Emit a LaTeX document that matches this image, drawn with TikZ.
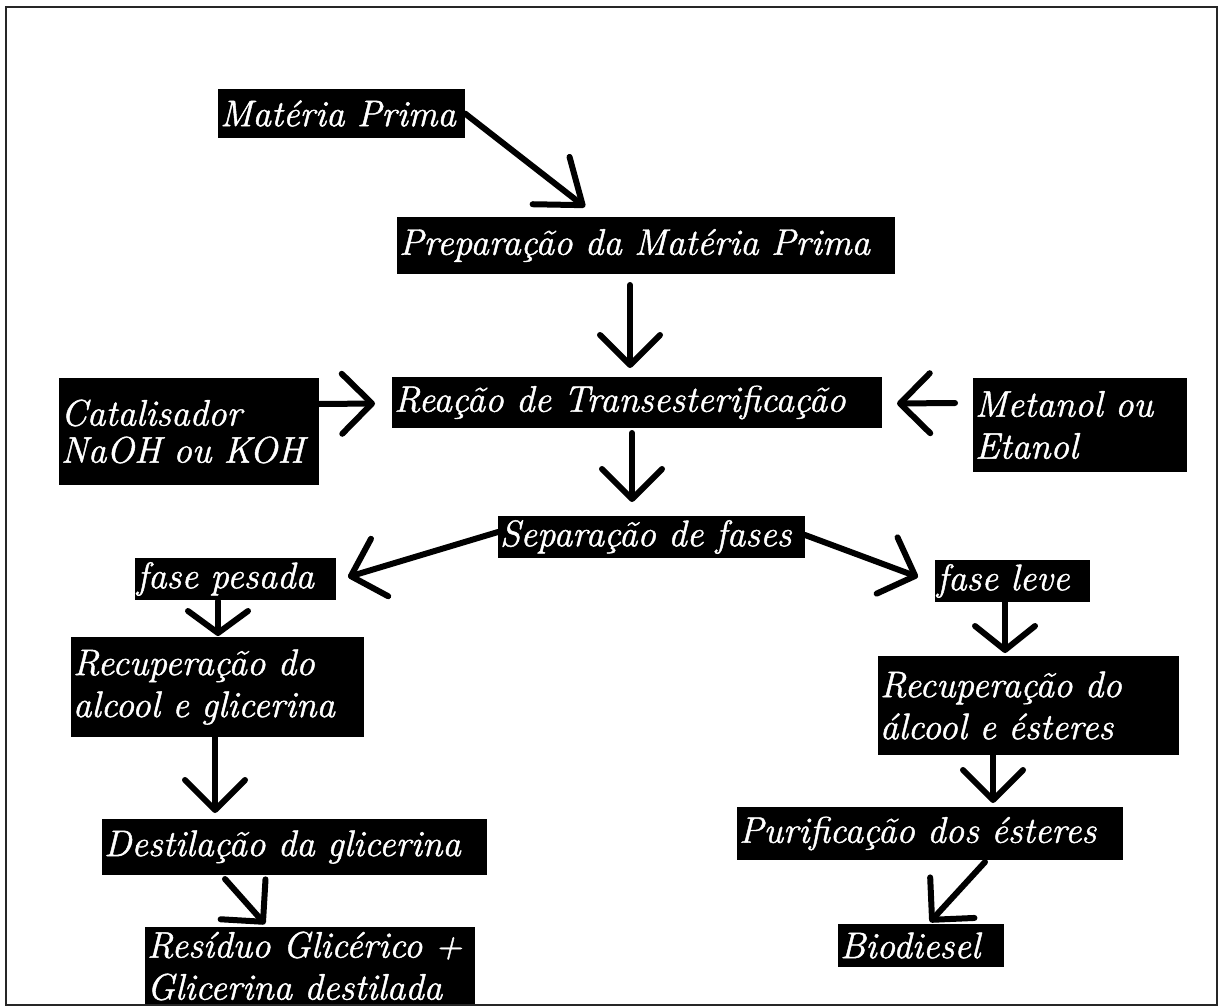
\documentclass[tikz,border=0pt]{standalone}
\usepackage{tikz}
\usepackage{fontspec}
\usetikzlibrary{arrows.meta,calc}

\newfontfamily\caixafont{Latin Modern Roman}[FakeBold=1.2]

\begin{document}
\begin{tikzpicture}[x=1pt, y=-1pt, every node/.style={fill=black, text=white, anchor=north west, inner xsep=2pt, inner ysep=0pt, outer sep=0pt, align=left, font=\caixafont\itshape\fontsize{37}{42}\selectfont},
    seta/.style={line width=6pt, line cap=round, -{Straight Barb[length=#1, width=60pt, round]}},
    seta/.default=30pt]
        \useasboundingbox (0,0) rectangle (1222,1008);
        \begin{scope}
        \clip (6,7) rectangle (1217,1005);
        \node (materia) [minimum width=247pt, minimum height=49pt, text width=243pt] at (218,89) {Matéria Prima};
        \node (preparo) [minimum width=498pt, minimum height=57pt, text width=494pt] at (397,217) {Preparação da Matéria Prima};
        \node (reacao) [minimum width=490pt, minimum height=51pt, text width=486pt] at (392,377) {Reação de Transesterificação};
        \node (catalisador) [minimum width=260pt, minimum height=107pt, text width=256pt, font=\caixafont\itshape\fontsize{37}{37}\selectfont] at (59,378) {Catalisador\\NaOH ou KOH};
        \node (alcool) [minimum width=214pt, minimum height=94pt, text width=210pt] at (973,378) {Metanol ou\\Etanol};
        \node (separacao) [minimum width=307pt, minimum height=42pt, text width=303pt] at (498,516) {Separação de fases};
        \node (pesada) [minimum width=201pt, minimum height=42pt, text width=197pt] at (135,558) {fase pesada};
        \node (leve) [minimum width=155pt, minimum height=42pt, text width=151pt] at (935,560) {fase leve};
        \node (recGlic) [minimum width=293pt, minimum height=100pt, text width=289pt] at (71,637) {Recuperação do\\alcool e glicerina};
        \node (recEst) [minimum width=301pt, minimum height=99pt, text width=297pt] at (878,656) {Recuperação do\\álcool e ésteres};
        \node (destilacao) [minimum width=385pt, minimum height=56pt, text width=381pt] at (102,819) {Destilação da glicerina};
        \node (purificacao) [minimum width=386pt, minimum height=53pt, text width=382pt] at (737,807) {Purificação dos ésteres};
        \node (residuo) [minimum width=330pt, minimum height=78pt, text width=326pt] at (145,927) {Resíduo Glicérico +\\Glicerina destilada};
        \node (biodiesel) [minimum width=166pt, minimum height=43pt, text width=162pt] at (838,924) {Biodiesel};

        \draw[seta=40pt] (materia.east) -- ($(preparo.north west)+(188,-10)$);
        \draw[seta] ($(preparo.south west)+(233,11)$) -- ($(reacao.north west)+(238,-9)$);
        \draw[seta] ($(catalisador.north east)+(0,26)$) -- ($(reacao.west)+(-17,1)$);
        \draw[seta] ($(alcool.north west)+(-18,25)$) -- ($(reacao.east)+(15,1)$);
        \draw[seta] ($(reacao.south west)+(240,5)$) -- ($(separacao.north west)+(134,-14)$);
        \draw[seta] ($(separacao.west)+(0,-5)$) -- ($(pesada.east)+(12,-2)$);
        \draw[seta] ($(separacao.east)+(0,-2)$) -- ($(leve.west)+(-17,-4)$);
        \draw[seta=22pt] ($(pesada.south west)+(83,1)$) -- ($(recGlic.north west)+(147,-1)$);
        \draw[seta] ($(recGlic.south west)+(144,0)$) -- ($(destilacao.north west)+(113,-6)$);
        \draw[seta] ($(destilacao.south west)+(123,4)$) -- ($(residuo.north west)+(120,-3)$);
        \draw[seta=24pt] ($(leve.south west)+(70,0)$) -- ($(recEst.north west)+(127,-3)$);
        \draw[seta] ($(recEst.south west)+(115,0)$) -- ($(purificacao.north west)+(256,-4)$);
        \draw[seta] ($(purificacao.south west)+(248,2)$) -- ($(biodiesel.north west)+(92,-2)$);
        \end{scope}
        \draw[line width=2.5pt, black!85] (6,7) rectangle (1217,1005);
    \end{tikzpicture}
\end{document}
